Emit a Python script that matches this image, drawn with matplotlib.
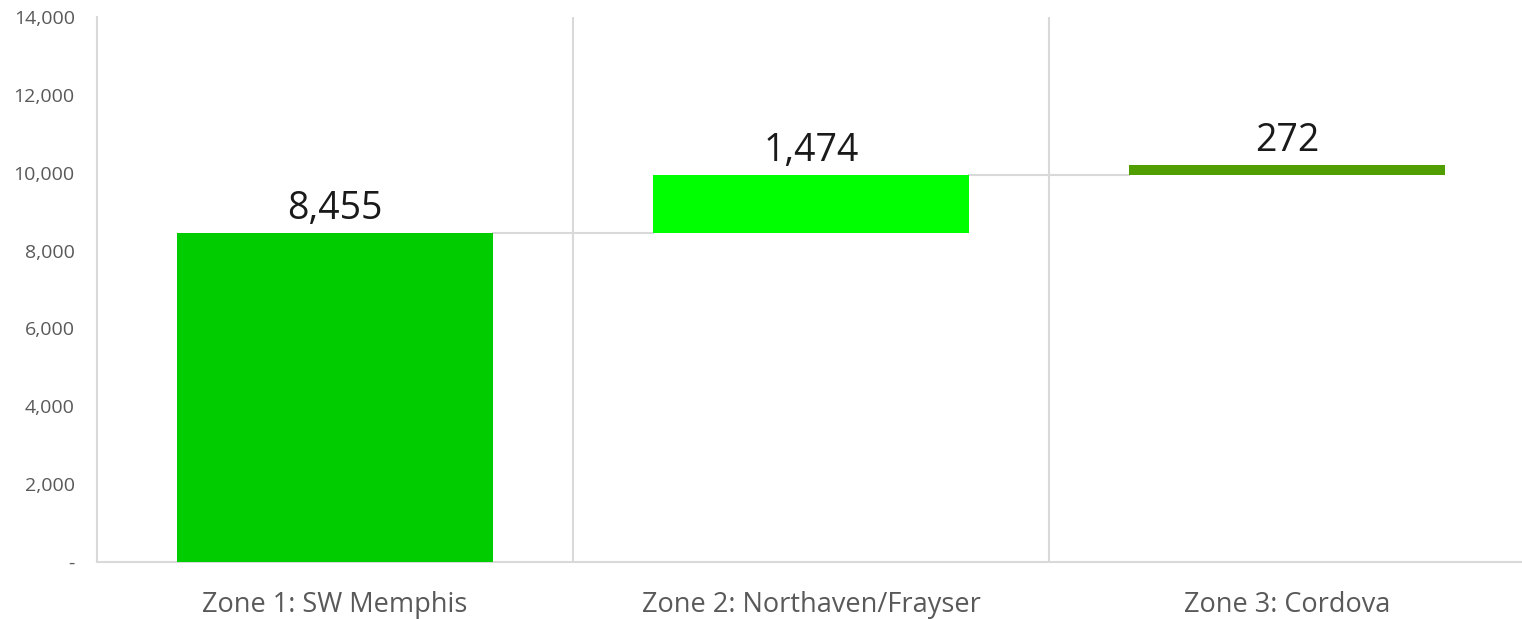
import matplotlib.pyplot as plt
import matplotlib.ticker as mticker
import numpy as np

zones = ["Zone 1: SW Memphis", "Zone 2: Northaven/Frayser", "Zone 3: Cordova"]
values = [8455, 1474, 272]
colors = ["#00CC00", "#00FF00", "#519E00"]

plt.rcParams['font.family'] = ['Open Sans', 'DejaVu Sans']

fig = plt.figure(figsize=(15.22, 6.19), dpi=100)
ax = fig.add_axes([97/1522, 57/619, 1428/1522, 545/619])

x = np.arange(len(zones))
bottoms = np.concatenate([[0], np.cumsum(values)[:-1]])
tops = bottoms + np.array(values)
width = 0.664

ax.bar(x, values, bottom=bottoms, width=width, color=colors, zorder=3)

# connector lines between bars
for i in range(len(values) - 1):
    ax.plot([x[i] + width/2, x[i+1] - width/2], [tops[i], tops[i]],
            color="#D9D9D9", lw=1.5, zorder=2)

for xi, t, v in zip(x, tops, values):
    ax.text(xi, t + 130, f"{v:,}", ha="center", va="bottom",
            fontsize=27, color="#1a1a1a")

ax.set_xlim(-0.5, len(zones) - 0.5)
ax.set_ylim(0, 14000)
ax.set_yticks(np.arange(0, 14001, 2000))
ax.yaxis.set_major_formatter(mticker.FuncFormatter(lambda v, p: "-" if v == 0 else f"{int(v):,}"))
ax.set_xticks(x)
ax.set_xticklabels(zones)

# vertical gridlines between categories
ax.set_xticks(np.arange(0.5, len(zones) - 0.5, 1), minor=True)
ax.grid(which="minor", axis="x", color="#D9D9D9", lw=1.5, zorder=0)

for s in ["top", "right"]:
    ax.spines[s].set_visible(False)
for s in ["left", "bottom"]:
    ax.spines[s].set_color("#D9D9D9")
    ax.spines[s].set_linewidth(1.5)

ax.tick_params(axis="y", length=0, pad=16, labelsize=14, labelcolor="#595959")
ax.tick_params(axis="x", which="both", length=0, pad=21, labelsize=19.5, labelcolor="#595959")

fig.savefig("out.png", dpi=100)
